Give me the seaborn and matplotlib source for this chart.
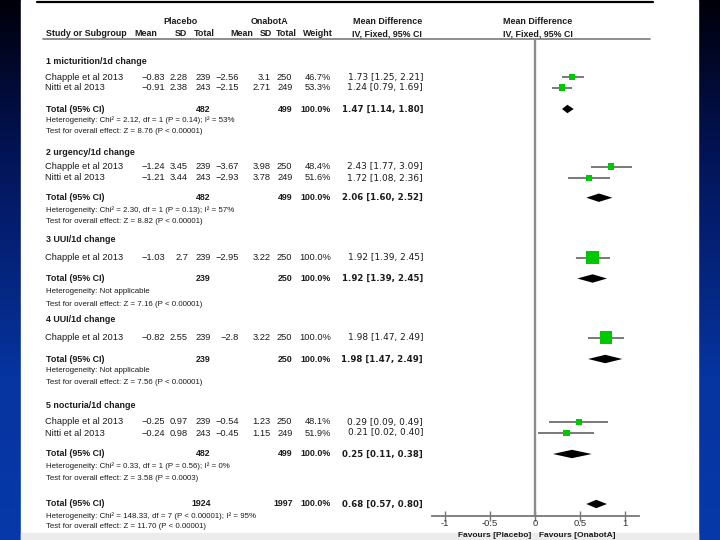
import matplotlib
matplotlib.use("Agg")
import matplotlib.pyplot as plt
from matplotlib.patches import Rectangle
import seaborn as sns
import numpy as np
import pandas as pd

# ---- data ----
subgroups = ["1 micturition/1d change", "2 urgency/1d change", "3 UUI/1d change",
             "4 UUI/1d change", "5 nocturia/1d change"]

study_group = [0, 0, 1, 1, 2, 3, 4, 4]
study_names = ["Chapple et al 2013", "Nitti et al 2013", "Chapple et al 2013", "Nitti et al 2013",
               "Chapple et al 2013", "Chapple et al 2013", "Chapple et al 2013", "Nitti et al 2013"]
pla_mean = [-0.83, -0.91, -1.24, -1.21, -1.03, -0.82, -0.25, -0.24]
pla_sd = [2.28, 2.38, 3.45, 3.44, 2.7, 2.55, 0.97, 0.98]
pla_n = [239, 243, 239, 243, 239, 239, 239, 243]
ona_mean = [-2.56, -2.15, -3.67, -2.93, -2.95, -2.8, -0.54, -0.45]
ona_sd = [3.1, 2.71, 3.98, 3.78, 3.22, 3.22, 1.23, 1.15]
ona_n = [250, 249, 250, 249, 250, 250, 250, 249]
weight = [46.7, 53.3, 48.4, 51.6, 100.0, 100.0, 48.1, 51.9]
md = [1.73, 1.24, 2.43, 1.72, 1.92, 1.98, 0.29, 0.21]
md_lo = [1.25, 0.79, 1.77, 1.08, 1.39, 1.47, 0.09, 0.02]
md_hi = [2.21, 1.69, 3.09, 2.36, 2.45, 2.49, 0.49, 0.40]

# where the marks actually sit on the drawn axis
plot_est = [0.41, 0.30, 0.84, 0.60, 0.64, 0.79, 0.49, 0.35]
plot_lo = [0.30, 0.19, 0.62, 0.37, 0.46, 0.59, 0.16, 0.03]
plot_hi = [0.54, 0.41, 1.08, 0.83, 0.83, 0.99, 0.81, 0.66]

tot_pla_n = [482, 482, 239, 239, 482]
tot_ona_n = [499, 499, 250, 250, 499]
tot_md = [1.47, 2.06, 1.92, 1.98, 0.25]
tot_lo = [1.14, 1.60, 1.39, 1.47, 0.11]
tot_hi = [1.80, 2.52, 2.45, 2.49, 0.38]
het_chi2 = [2.12, 2.30, None, None, 0.33]
het_df = [1, 1, None, None, 1]
het_p = ["0.14", "0.13", None, None, "0.56"]
het_i2 = [53, 57, None, None, 0]
z_val = [8.76, 8.82, 7.16, 7.56, 3.58]
z_p = ["< 0.00001", "< 0.00001", "< 0.00001", "< 0.00001", "= 0.0003"]
tot_plot_lo = [0.30, 0.57, 0.47, 0.59, 0.20]
tot_plot_est = [0.36, 0.71, 0.64, 0.78, 0.41]
tot_plot_hi = [0.43, 0.86, 0.80, 0.97, 0.63]

all_pla_n = 1924
all_ona_n = 1997
all_md, all_lo, all_hi = 0.68, 0.57, 0.80
all_chi2, all_df, all_p, all_i2 = 148.33, 7, "< 0.00001", 95
all_z, all_zp = 11.70, "< 0.00001"
all_plot = (0.57, 0.68, 0.80)

xticks = [-1, -0.5, 0, 0.5, 1]
xtick_labels = ["-1", "-0.5", "0", "0.5", "1"]

# ---- layout (pixel rows) ----
title_y = [61, 152.7, 240, 319.5, 405]
study_y = [77.3, 87.7, 166.5, 178, 257.7, 337.5, 422, 433]
total_y = [109, 197.7, 278.5, 359, 454]
het_y = [120, 210, 291.5, 370.5, 466.5]
test_y = [131.5, 221.7, 304, 382.5, 478.3]
all_y = (504, 516.5, 527)

sns.set_theme(style="white")
plt.rcParams['font.family'] = ['Liberation Sans', 'DejaVu Sans']

fig = plt.figure(figsize=(7.2, 5.4), dpi=100)

# background: blue gradient with white slide
bg = fig.add_axes([0, 0, 1, 1])
grad = np.linspace(0, 1, 256).reshape(-1, 1)
cmap = matplotlib.colors.LinearSegmentedColormap.from_list(
    "slide", [(0, "#00000a"), (0.3, "#03155a"), (0.7, "#0634a0"), (1, "#0739aa")])
bg.imshow(grad, aspect="auto", cmap=cmap, extent=[0, 720, 540, 0])
bg.add_patch(Rectangle((21, 0), 677, 540, color="white", zorder=1))
bg.add_patch(Rectangle((21, 533), 677, 7, color="#ececec", zorder=1))
bg.set_xlim(0, 720)
bg.set_ylim(540, 0)
bg.axis("off")

bg.plot([37, 653], [2, 2], color="black", lw=1.6, zorder=2)
bg.plot([43, 650], [39.3, 39.3], color="#7a7a7a", lw=1.2, zorder=2)

tc = "#1c1c1c"
fs = 6.7
fsh = 6.4
fsm = 5.7
numfont = ["DejaVu Sans"]


def t(x, y, s, ha="left", bold=False, size=fs, color=tc, family=None):
    kw = {} if family is None else {"family": family}
    bg.text(x, y, s, ha=ha, va="center", fontsize=size, color=color,
            fontweight="bold" if bold else "normal", zorder=3, **kw)


def num(v):
    return f"{v:g}".replace("-", "\u2212")


# headers
t(180, 21.5, "Placebo", ha="center", bold=True, size=fsh)
t(269, 21.5, "OnabotA", ha="center", bold=True, size=fsh)
t(422, 21.5, "Mean Difference", ha="right", bold=True, size=fsh)
t(538, 21.5, "Mean Difference", ha="center", bold=True, size=fsh)
t(46, 33.5, "Study or Subgroup", bold=True, size=fsh)
for x, s in [(157, "Mean"), (187, "SD"), (215, "Total"), (253, "Mean"), (272, "SD"),
             (296.7, "Total"), (333, "Weight"), (422, "IV, Fixed, 95% CI")]:
    t(x, 33.5, s, ha="right", bold=True, size=fsh)
t(538, 33.5, "IV, Fixed, 95% CI", ha="center", bold=True, size=fsh)

# subgroup blocks
for g in range(len(subgroups)):
    t(46, title_y[g], subgroups[g], bold=True, size=fsh)
    t(46, total_y[g], "Total (95% CI)", bold=True, size=fsh)
    t(210.5, total_y[g], str(tot_pla_n[g]), ha="right", bold=True, size=fsh)
    t(292.5, total_y[g], str(tot_ona_n[g]), ha="right", bold=True, size=fsh)
    t(331, total_y[g], "100.0%", ha="right", bold=True, size=fsh)
    t(423, total_y[g], f"{tot_md[g]:.2f} [{tot_lo[g]:.2f}, {tot_hi[g]:.2f}]", ha="right",
      bold=True, size=6.2, family=numfont)
    if het_chi2[g] is None:
        het = "Heterogeneity: Not applicable"
    else:
        het = (f"Heterogeneity: Chi\u00b2 = {het_chi2[g]:.2f}, df = {het_df[g]} "
               f"(P = {het_p[g]}); I\u00b2 = {het_i2[g]}%")
    t(46, het_y[g], het, size=fsm)
    t(46, test_y[g], f"Test for overall effect: Z = {z_val[g]:.2f} (P {z_p[g]})", size=fsm)

for i in range(len(study_names)):
    y = study_y[i]
    t(45, y, study_names[i])
    t(165, y, num(pla_mean[i]), ha="right")
    t(188, y, num(pla_sd[i]), ha="right")
    t(210.5, y, str(pla_n[i]), ha="right")
    t(239, y, num(ona_mean[i]), ha="right")
    t(270.5, y, num(ona_sd[i]), ha="right")
    t(292.5, y, str(ona_n[i]), ha="right")
    t(331, y, f"{weight[i]:.1f}%", ha="right")
    t(423, y, f"{md[i]:.2f} [{md_lo[i]:.2f}, {md_hi[i]:.2f}]", ha="right", size=6.5, family=numfont)

# overall
t(46, all_y[0], "Total (95% CI)", bold=True, size=fsh)
t(210.5, all_y[0], str(all_pla_n), ha="right", bold=True, size=fsh)
t(292.5, all_y[0], str(all_ona_n), ha="right", bold=True, size=fsh)
t(331, all_y[0], "100.0%", ha="right", bold=True, size=fsh)
t(423, all_y[0], f"{all_md:.2f} [{all_lo:.2f}, {all_hi:.2f}]", ha="right", bold=True, size=6.2,
  family=numfont)
t(46, all_y[1], f"Heterogeneity: Chi\u00b2 = {all_chi2:.2f}, df = {all_df} (P {all_p}); I\u00b2 = {all_i2}%",
  size=fsm)
t(46, all_y[2], f"Test for overall effect: Z = {all_z:.2f} (P {all_zp})", size=fsm)

# ---- forest panel ----
ax_l, ax_r, ax_t, ax_b = 431.7, 639.3, 39.3, 516
fax = fig.add_axes([ax_l / 720, 1 - ax_b / 540, (ax_r - ax_l) / 720, (ax_b - ax_t) / 540])
fax.patch.set_alpha(0)

studies = pd.DataFrame({"est": plot_est, "lo": plot_lo, "hi": plot_hi,
                        "row": study_y, "weight": weight})
fax.axvline(0, color="#8c8c8c", lw=1.7, zorder=1)
fax.hlines(studies["row"], studies["lo"], studies["hi"], color="#555555", lw=1.1, zorder=2)
sns.scatterplot(data=studies, x="est", y="row", size="weight", sizes=(8.4, 83.6),
                size_norm=(40, 100), marker="s", color="#00c800", linewidth=0,
                legend=False, ax=fax, zorder=3)

h = 4.2
for g in range(len(subgroups)):
    lo, c, hi = tot_plot_lo[g], tot_plot_est[g], tot_plot_hi[g]
    y = total_y[g]
    fax.fill([lo, c, hi, c], [y, y - h, y, y + h], color="black", lw=0, zorder=3)
lo, c, hi = all_plot
y = all_y[0]
fax.fill([lo, c, hi, c], [y, y - h, y, y + h], color="black", lw=0, zorder=3)

fax.set_xlim(-1.148, 1.159)
fax.set_ylim(ax_b, ax_t)
fax.set_xlabel("")
fax.set_ylabel("")
fax.set_yticks([])
fax.set_xticks(xticks)
fax.set_xticklabels(xtick_labels, fontsize=6.8, color="#333333")
fax.tick_params(axis="x", direction="inout", length=7, width=1, color="#777777", pad=-1.5, bottom=True)
for side in ["top", "left", "right"]:
    fax.spines[side].set_visible(False)
fax.spines["bottom"].set_color("#777777")
fax.spines["bottom"].set_linewidth(1.3)

t(531, 535.5, "Favours [Placebo]", ha="right", bold=True, size=6.0)
t(539, 535.5, "Favours [OnabotA]", ha="left", bold=True, size=6.0)

fig.savefig("out.png", dpi=100)
